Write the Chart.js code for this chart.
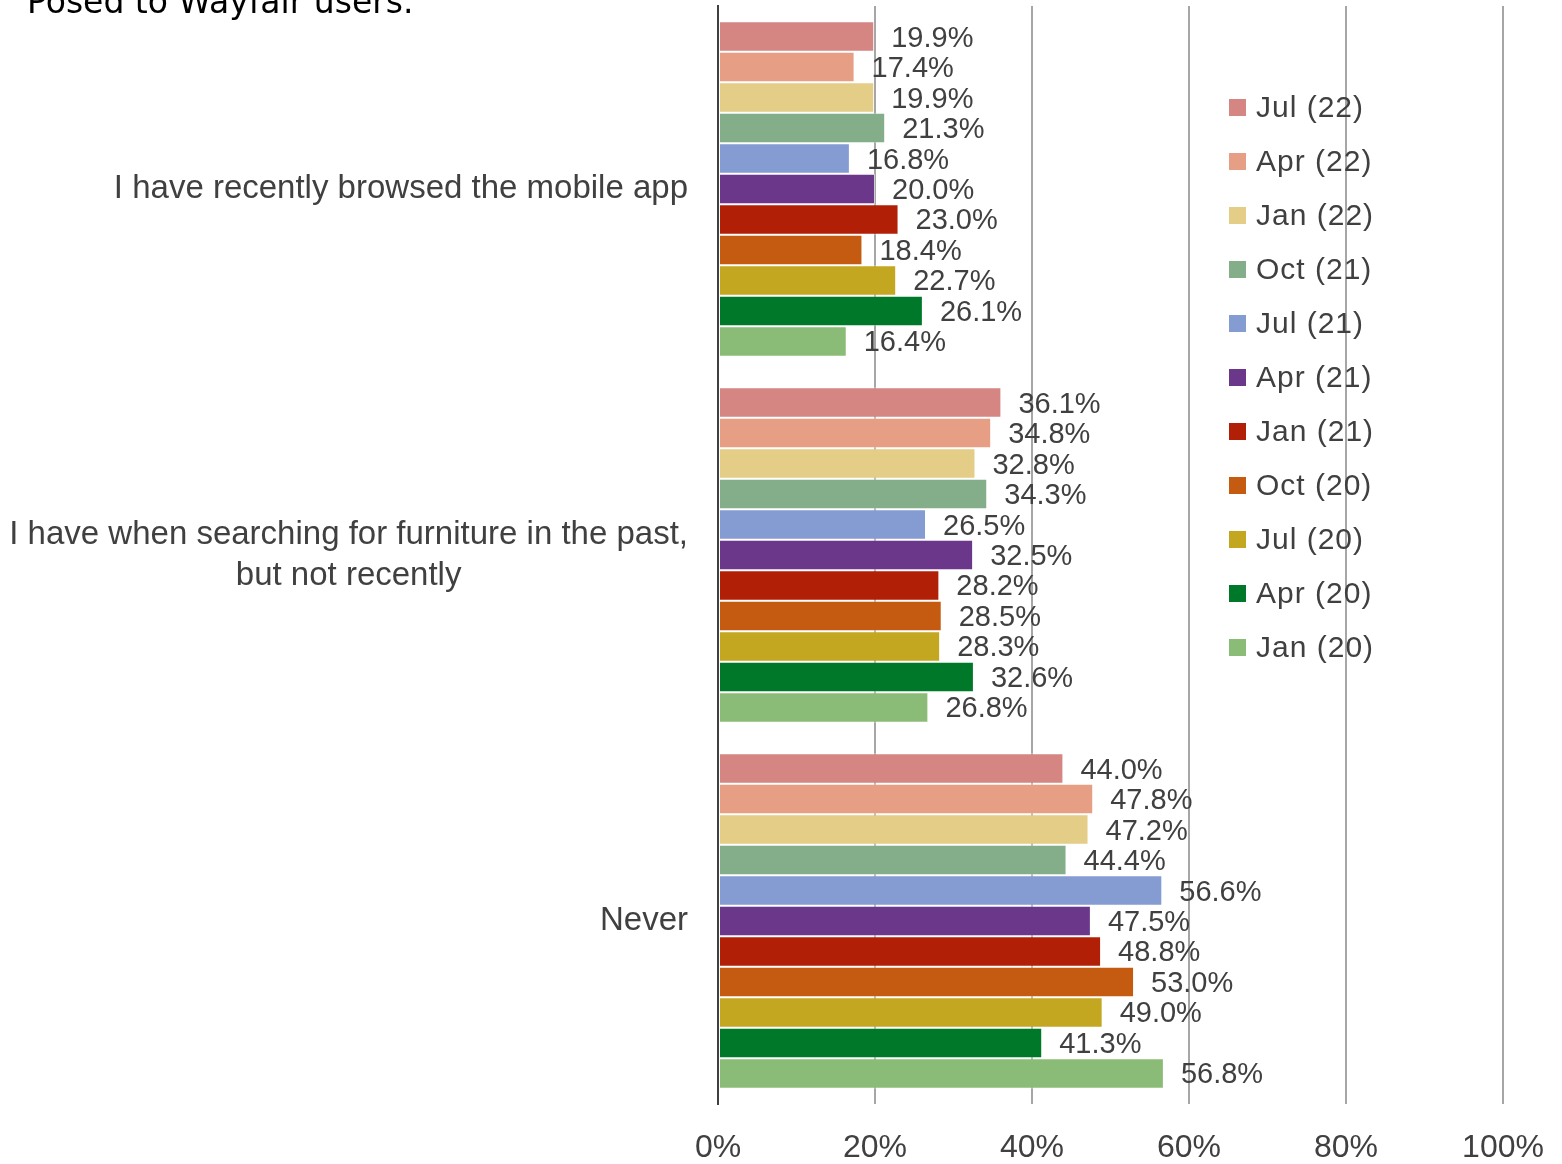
<!DOCTYPE html>
<html>
<head>
<meta charset="utf-8">
<script src="https://cdn.jsdelivr.net/npm/chart.js@4.4.1/dist/chart.umd.min.js"></script>
<style>
  html, body { margin: 0; padding: 0; background: #fff; }
</style>
</head>
<body>
<canvas id="wayfairChart" width="1562" height="1164"></canvas>
<script>
// categories (top to bottom)
var categories = [
    ['I have recently browsed the mobile app'],
    ['I have when searching for furniture in the past,', 'but not recently'],
    ['Never']
];

// survey waves, in legend order
var waves = ['Jul (22)', 'Apr (22)', 'Jan (22)', 'Oct (21)', 'Jul (21)', 'Apr (21)',
             'Jan (21)', 'Oct (20)', 'Jul (20)', 'Apr (20)', 'Jan (20)'];

// values per wave: [recently browsed, past not recently, never]
var jul22 = [19.9, 36.1, 44.0];
var apr22 = [17.4, 34.8, 47.8];
var jan22 = [19.9, 32.8, 47.2];
var oct21 = [21.3, 34.3, 44.4];
var jul21 = [16.8, 26.5, 56.6];
var apr21 = [20.0, 32.5, 47.5];
var jan21 = [23.0, 28.2, 48.8];
var oct20 = [18.4, 28.5, 53.0];
var jul20 = [22.7, 28.3, 49.0];
var apr20 = [26.1, 32.6, 41.3];
var jan20 = [16.4, 26.8, 56.8];

var xTicks = [0, 20, 40, 60, 80, 100];

var seriesValues = [jul22, apr22, jan22, oct21, jul21, apr21, jan21, oct20, jul20, apr20, jan20];
var colors = ['#d58682', '#e69f85', '#e4cd87', '#84ad89', '#859cd3', '#6a378a',
              '#b11f07', '#c55b10', '#c3a720', '#00782a', '#8bbc77'];

var textColor = '#404040';
var font = '"Liberation Sans", Arial, sans-serif';

var datasets = waves.map(function(w, i) {
    return {
        label: w,
        data: seriesValues[i],
        backgroundColor: colors[i],
        borderColor: 'rgba(255,255,255,0.45)',
        borderWidth: 1,
        borderSkipped: false,
        categoryPercentage: 0.916,
        barPercentage: 1.0
    };
});

// title text, cut off at top like the source
var titlePlugin = {
    id: 'topTitle',
    afterDraw: function(chart) {
        var c = chart.ctx;
        c.save();
        c.fillStyle = '#000';
        c.font = '33px "DejaVu Sans", sans-serif';
        c.textAlign = 'left';
        c.textBaseline = 'alphabetic';
        c.fillText('Posed to Wayfair users.', 27, 13);
        c.restore();
    }
};

// category labels, right aligned, multi-line centred on widest line
var catLabels = {
    id: 'catLabels',
    afterDraw: function(chart) {
        var c = chart.ctx;
        var y = chart.scales.y;
        var right = chart.chartArea.left - 30;
        c.save();
        c.font = '33px ' + font;
        c.fillStyle = textColor;
        c.textBaseline = 'middle';
        c.textAlign = 'center';
        categories.forEach(function(lines, i) {
            var widest = 0;
            lines.forEach(function(l) { widest = Math.max(widest, c.measureText(l).width); });
            var cy = y.getPixelForValue(i);
            var lh = 41;
            var top = cy - (lines.length - 1) * lh / 2;
            lines.forEach(function(l, j) {
                c.fillText(l, right - widest / 2, top + j * lh);
            });
        });
        c.restore();
    }
};

// value labels at end of each bar
var valueLabels = {
    id: 'valueLabels',
    afterDatasetsDraw: function(chart) {
        var c = chart.ctx;
        c.save();
        c.font = '29px ' + font;
        c.fillStyle = textColor;
        c.textAlign = 'left';
        c.textBaseline = 'middle';
        chart.data.datasets.forEach(function(ds, i) {
            chart.getDatasetMeta(i).data.forEach(function(bar, j) {
                c.fillText(ds.data[j].toFixed(1) + '%', bar.x + 17, bar.y + 2);
            });
        });
        c.restore();
    }
};

// legend drawn inside the plot area
var sideLegend = {
    id: 'sideLegend',
    afterDraw: function(chart) {
        var c = chart.ctx;
        c.save();
        c.font = '30px ' + font;
        c.letterSpacing = '1px';
        c.textAlign = 'left';
        c.textBaseline = 'middle';
        chart.data.datasets.forEach(function(ds, i) {
            var cy = 108 + i * 54;
            c.fillStyle = ds.backgroundColor;
            c.fillRect(1229, cy - 9, 17, 17);
            c.fillStyle = textColor;
            c.fillText(ds.label, 1256, cy + 1);
        });
        c.restore();
    }
};

var ctx = document.getElementById('wayfairChart').getContext('2d');
var wayfairChart = new Chart(ctx, {
    type: 'bar',
    data: {
        labels: categories.map(function(l) { return l.join(' '); }),
        datasets: datasets
    },
    options: {
        indexAxis: 'y',
        responsive: false,
        maintainAspectRatio: false,
        animation: false,
        layout: { padding: { left: 717, right: 59, top: 6, bottom: 0 } },
        plugins: {
            legend: { display: false },
            tooltip: { enabled: false }
        },
        scales: {
            x: {
                min: 0,
                max: 100,
                afterBuildTicks: function(scale) {
                    scale.ticks = xTicks.map(function(v) { return { value: v }; });
                },
                afterFit: function(scale) {
                    scale.height = 60;
                    scale.paddingLeft = 0;
                    scale.paddingRight = 0;
                },
                ticks: {
                    callback: function(v) { return v + '%'; },
                    color: textColor,
                    font: { size: 32, family: font },
                    padding: 25,
                    maxRotation: 0
                },
                grid: {
                    color: function(c) { return c.tick && c.tick.value === 0 ? textColor : '#a6a6a6'; },
                    lineWidth: 2,
                    drawTicks: false
                },
                border: { display: false }
            },
            y: {
                afterFit: function(scale) { scale.width = 1; },
                ticks: { display: false },
                grid: { display: false },
                border: { color: textColor, width: 2 }
            }
        }
    },
    plugins: [titlePlugin, catLabels, valueLabels, sideLegend]
});
</script>
</body>
</html>
